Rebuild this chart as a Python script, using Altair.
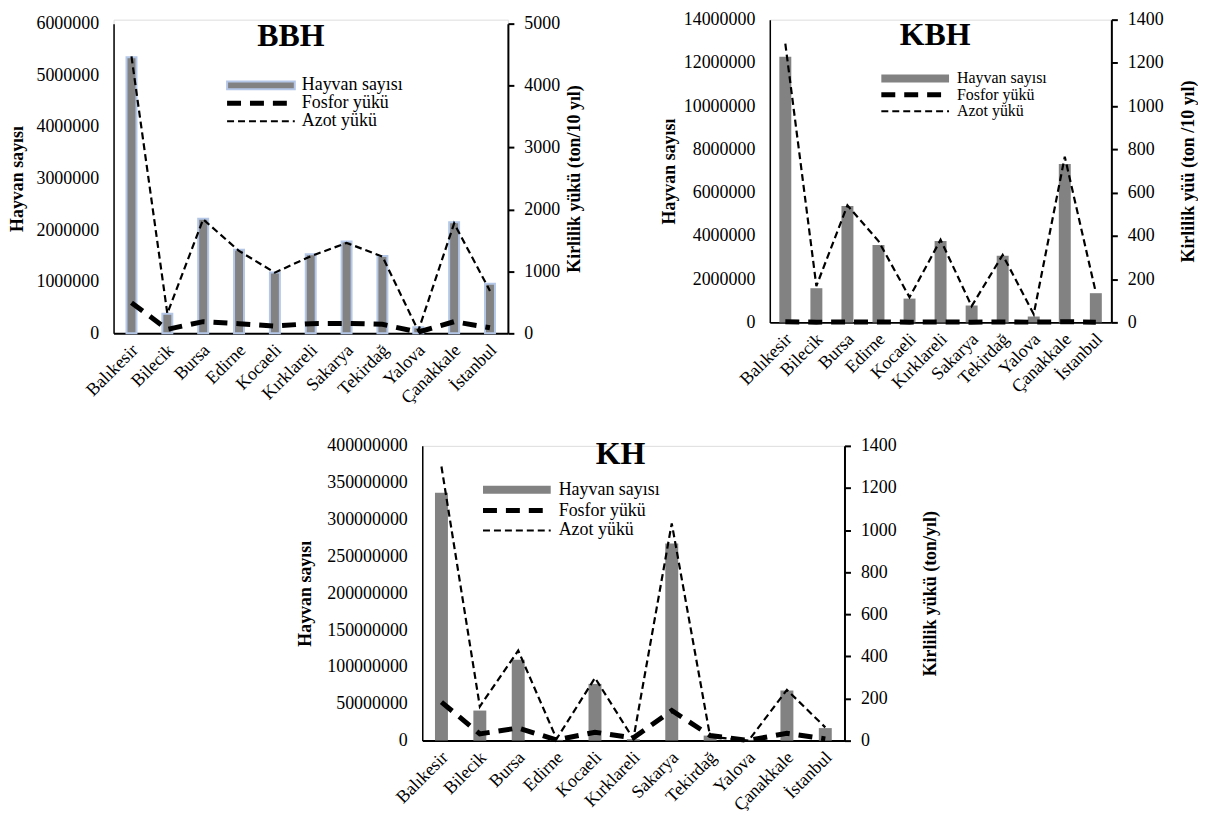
import altair as alt
import pandas as pd

SERIF = "Liberation Serif"

cities = ["Balıkesir", "Bilecik", "Bursa", "Edirne", "Kocaeli", "Kırklareli",
          "Sakarya", "Tekirdağ", "Yalova", "Çanakkale", "İstanbul"]

# BBH
bbh_hayvan = [5350000, 380000, 2220000, 1620000, 1180000, 1530000, 1780000, 1500000, 120000, 2150000, 960000]
bbh_fosfor = [495, 65, 188, 156, 118, 156, 161, 145, 20, 188, 91]
bbh_azot = [4470, 320, 1840, 1330, 980, 1245, 1460, 1240, 40, 1775, 685]
bbh_left_ticks = [0, 1000000, 2000000, 3000000, 4000000, 5000000, 6000000]
bbh_right_ticks = [0, 1000, 2000, 3000, 4000, 5000]

# KBH
kbh_hayvan = [12290000, 1580000, 5380000, 3580000, 1100000, 3760000, 780000, 3080000, 270000, 7320000, 1350000]
kbh_fosfor = [3, 1, 2, 2, 1, 2, 1, 2, 1, 3, 1]
kbh_azot = [1289, 168, 541, 376, 116, 382, 75, 312, 38, 766, 138]
kbh_left_ticks = [0, 2000000, 4000000, 6000000, 8000000, 10000000, 12000000, 14000000]
kbh_right_ticks = [0, 200, 400, 600, 800, 1000, 1200, 1400]

# KH
kh_hayvan = [336500000, 40800000, 109800000, 1000000, 77000000, 2000000, 267600000, 6800000, 1000000, 68000000, 17000000]
kh_fosfor = [183, 32, 60, 3, 40, 13, 143, 24, 1, 35, 8]
kh_azot = [1302, 162, 428, 8, 298, 8, 1032, 19, 0, 241, 63]
kh_left_ticks = [0, 50000000, 100000000, 150000000, 200000000, 250000000, 300000000, 350000000, 400000000]
kh_right_ticks = [0, 200, 400, 600, 800, 1000, 1200, 1400]

legend_labels = ["Hayvan sayısı", "Fosfor yükü", "Azot yükü"]

BAR_FILL = "#828282"


def panel(name, hayvan, fosfor, azot, left_ticks, right_ticks, left_title, right_title,
          width, height, top_gap, bar_size, bar_stroke, title_pos, leg, leg_font,
          left_title_pad, right_title_pad):
    df = pd.DataFrame({
        "il": cities,
        "sira": list(range(len(cities))),
        "hayvan": hayvan,
        "fosfor": fosfor,
        "azot": azot,
    })
    rng = [height, top_gap]
    x = alt.X("il:N", sort=cities,
              scale=alt.Scale(paddingInner=0, paddingOuter=0),
              axis=alt.Axis(title=None, labelAngle=315, labelAlign="right",
                            labelBaseline="middle", ticks=False, labelPadding=14,
                            labelOffset=4,
                            domainColor="black", domainWidth=2,
                            labelFontSize=18, labelColor="black", labelFont=SERIF))
    bar_kwargs = dict(size=bar_size, fill=BAR_FILL)
    if bar_stroke:
        bar_kwargs.update(stroke="#b4c7e7", strokeWidth=2)
    bars = alt.Chart(df).mark_bar(**bar_kwargs).encode(
        x=x,
        y=alt.Y("hayvan:Q",
                scale=alt.Scale(domain=[left_ticks[0], left_ticks[-1]], range=rng, nice=False),
                axis=alt.Axis(values=left_ticks, format="d", ticks=False, labelPadding=15,
                              domainColor="black", domainWidth=1.5, grid=False,
                              labelFontSize=18, labelColor="black", labelFont=SERIF,
                              title=left_title, titleFontSize=18, titleFont=SERIF,
                              titleFontWeight="bold", titleColor="black",
                              titlePadding=left_title_pad)),
    )
    right_axis = alt.Axis(orient="right", values=right_ticks, format="d", ticks=True,
                          tickSize=6, tickWidth=2, tickColor="black", labelPadding=10,
                          domainColor="black", domainWidth=2, grid=False,
                          labelFontSize=18, labelColor="black", labelFont=SERIF,
                          title=right_title, titleFontSize=18, titleFont=SERIF,
                          titleFontWeight="bold", titleColor="black", titleAngle=270,
                          titleBaseline="top", titlePadding=right_title_pad)
    yr = alt.Scale(domain=[right_ticks[0], right_ticks[-1]], range=rng, nice=False)
    base = alt.Chart(df).transform_fold(["fosfor", "azot"], as_=["tur", "deger"])
    fos = base.transform_filter(alt.datum.tur == "fosfor").mark_line(
        color="black", strokeWidth=5, strokeDash=[14, 9]).encode(
        x=x, y=alt.Y("deger:Q", scale=yr, axis=right_axis), order=alt.Order("sira:Q"))
    azo = base.transform_filter(alt.datum.tur == "azot").mark_line(
        color="black", strokeWidth=2.2, strokeDash=[7, 4]).encode(
        x=x, y=alt.Y("deger:Q", scale=yr, axis=right_axis), order=alt.Order("sira:Q"))
    lines = alt.layer(fos, azo)

    # title text inside plot
    tdf = pd.DataFrame({"t": [name]})
    title = alt.Chart(tdf).mark_text(fontSize=32, font=SERIF, fontWeight="bold",
                                     color="black", baseline="alphabetic", align="center").encode(
        x=alt.value(title_pos[0]), y=alt.value(title_pos[1]), text="t:N")

    # legend
    lx0, lx1, ltx, ly = leg
    one = pd.DataFrame({"a": [0]})
    sym_kwargs = dict(fill=BAR_FILL)
    if bar_stroke:
        sym_kwargs.update(stroke="#b4c7e7", strokeWidth=2)
    leg_bar = alt.Chart(one).mark_rect(**sym_kwargs).encode(
        x=alt.value(lx0), x2=alt.value(lx1), y=alt.value(ly[0] - 4), y2=alt.value(ly[0] + 4))
    leg_fos = alt.Chart(one).mark_rule(color="black", strokeWidth=5, strokeDash=[14, 9]).encode(
        x=alt.value(lx0), x2=alt.value(lx1), y=alt.value(ly[1]))
    leg_azo = alt.Chart(one).mark_rule(color="black", strokeWidth=2.2, strokeDash=[7, 4]).encode(
        x=alt.value(lx0), x2=alt.value(lx1), y=alt.value(ly[2]))
    ldf = pd.DataFrame({"lab": legend_labels, "yy": ly})
    leg_txt = alt.Chart(ldf).mark_text(fontSize=leg_font, font=SERIF, color="black",
                                       align="left", baseline="middle").encode(
        x=alt.value(ltx), y=alt.Y("yy:Q", scale=None), text="lab:N")

    return alt.layer(bars, lines, title, leg_bar, leg_fos, leg_azo, leg_txt).resolve_scale(
        y="independent").properties(width=width, height=height)


bbh = panel("BBH", bbh_hayvan, bbh_fosfor, bbh_azot, bbh_left_ticks, bbh_right_ticks,
            "Hayvan sayısı", "Kirlilik yükü (ton/10 yıl)",
            396, 315, 4, 10, True, (178, 26),
            (114, 182, 189, [66, 84, 102]), 18, 9, 6)
kbh = panel("KBH", kbh_hayvan, kbh_fosfor, kbh_azot, kbh_left_ticks, kbh_right_ticks,
            "Hayvan sayısı", "Kirlilik yüü (ton /10 yıl)",
            343, 304, 0, 12, False, (166, 25),
            (112, 180, 188, [59, 75.5, 92]), 16, 5, 16)
kh = panel("KH", kh_hayvan, kh_fosfor, kh_azot, kh_left_ticks, kh_right_ticks,
           "Hayvan sayısı", "Kirlilik yükü (ton/yıl)",
           424, 296, 0, 13, False, (199, 18),
           (61, 129, 137, [44, 65, 85]), 18, 12, 25)

# empty, invisible spacer that shifts the bottom panel to the centre
spacer = alt.Chart(pd.DataFrame({"a": [0]})).mark_point(opacity=0).properties(width=171, height=10)

top = alt.hconcat(bbh, kbh, spacing=75)
bottom = alt.hconcat(spacer, kh, spacing=12)
chart = alt.vconcat(top, bottom, spacing=28).properties(
    padding={"left": 0, "top": 0, "right": 0, "bottom": 0}).configure_view(
    stroke=None).configure(font=SERIF)

chart.save("out.html", embed_options={"renderer": "svg", "actions": False})
